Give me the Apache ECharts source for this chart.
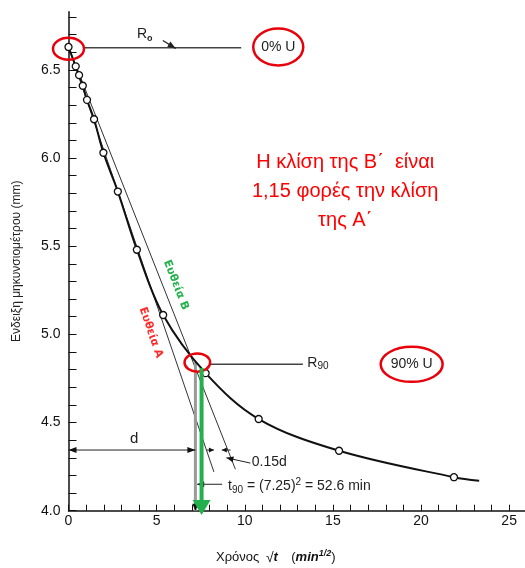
<!DOCTYPE html>
<html><head><meta charset="utf-8">
<script src="https://cdn.jsdelivr.net/npm/echarts@6/dist/echarts.min.js"></script>
<style>html,body{margin:0;padding:0;background:#fff}#c{width:525px;height:568px}</style>
</head><body><div id="c"></div>
<script>
// ---- data ----
const sqrtT   = [0, 0.41, 0.60, 0.81, 1.05, 1.45, 1.98, 2.80, 3.88, 5.37, 7.78, 10.79, 15.35, 21.87];
const reading = [6.63, 6.52, 6.47, 6.41, 6.33, 6.22, 6.03, 5.81, 5.48, 5.11, 4.78, 4.52, 4.34, 4.19];
const curveEnd = [23.3, 4.17];
const lineA = [[0, 6.63], [8.25, 4.22]];
const lineB = [[0, 6.63], [9.47, 4.235]];
const r0Line = [[0.9, 6.625], [9.8, 6.625]];
const r90Line = [[8.0, 4.83], [13.3, 4.83]];
const t90X = 7.2;
const t90Top = 4.84;
const greenArrow = [[7.55, 4.81], [7.55, 3.976]];
const dLevel = 4.344;
const xTickLabels = [0, 5, 10, 15, 20, 25];
const yTickLabels = [4.0, 4.5, 5.0, 5.5, 6.0, 6.5];
const circledPoints = [[0, 6.62], [7.31, 4.84]];
const uLabels = [['0% U', 11.9, 6.63], ['90% U', 19.47, 4.83]];
const noteLines = ['Η κλίση της Β΄  είναι', '1,15 φορές την κλίση', 'της Α΄'];
const noteAnchor = [15.7, 5.81];

const chart = echarts.init(document.getElementById('c'), null, {renderer: 'canvas'});

function head(tip, from, len, half, color) {
  const dx = tip[0] - from[0], dy = tip[1] - from[1];
  const L = Math.hypot(dx, dy) || 1, ux = dx / L, uy = dy / L;
  const bx = tip[0] - ux * len, by = tip[1] - uy * len;
  return {type: 'polygon', shape: {points: [tip, [bx - uy * half, by + ux * half], [bx + uy * half, by - ux * half]]},
          style: {fill: color || '#111'}};
}
function seg(p0, p1, color, w) {
  return {type: 'line', shape: {x1: p0[0], y1: p0[1], x2: p1[0], y2: p1[1]}, style: {stroke: color || '#111', lineWidth: w || 1}};
}

function renderAnn(params, api) {
  const c = (x, y) => api.coord([x, y]);
  const kids = [];
  // red ellipses
  const ellR = [[15.5, 11], [12.8, 9.2]];
  circledPoints.forEach((p, i) => {
    const q = c(p[0], p[1]);
    kids.push({type: 'ellipse', shape: {cx: q[0], cy: q[1], rx: ellR[i][0], ry: ellR[i][1]}, style: {fill: null, stroke: '#e8000b', lineWidth: 2.5}});
  });
  const uR = [[25, 18.5], [31, 17.5]];
  uLabels.forEach((u, i) => {
    const q = c(u[1], u[2]);
    kids.push({type: 'ellipse', shape: {cx: q[0], cy: q[1], rx: uR[i][0], ry: uR[i][1]}, style: {fill: null, stroke: '#e8000b', lineWidth: 2.5}});
    kids.push({type: 'text', x: q[0], y: q[1], style: {text: u[0], fontSize: 14, fontFamily: 'Liberation Sans, Arial', fill: '#222', align: 'center', verticalAlign: 'middle'}});
  });
  // R0 label and arrow
  let q = c(4.33, 6.70);
  kids.push({type: 'text', x: q[0], y: q[1], style: {text: '{r|R}{s|o}', align: 'center', verticalAlign: 'middle',
    rich: {r: {fontSize: 14, fontFamily: 'Liberation Sans, Arial', fill: '#222', lineHeight: 16}, s: {fontSize: 9, fontWeight: 'bold', fill: '#222', verticalAlign: 'bottom', lineHeight: 10}}}});
  let a0 = c(5.35, 6.667), a1 = c(6.08, 6.622);
  kids.push(seg(a0, a1, '#222', 1.2), head(a1, a0, 8, 3, '#222'));
  // R90 label
  q = c(13.55, 4.835);
  kids.push({type: 'text', x: q[0], y: q[1], style: {text: '{r|R}{s|90}', align: 'left', verticalAlign: 'middle',
    rich: {r: {fontSize: 14, fontFamily: 'Liberation Sans, Arial', fill: '#222', lineHeight: 16}, s: {fontSize: 10, fill: '#222', verticalAlign: 'bottom', lineHeight: 10}}}});
  // d dimension
  a0 = c(0, dLevel); a1 = c(t90X, dLevel);
  kids.push(seg(a0, a1, '#222', 1), head(a0, a1, 8, 3), head(a1, a0, 8, 3));
  q = c(3.72, 4.41);
  kids.push({type: 'text', x: q[0], y: q[1], style: {text: 'd', fontSize: 15, fontFamily: 'Liberation Sans, Arial', fill: '#222', align: 'center', verticalAlign: 'middle'}});
  // 0.15d arrows
  a0 = c(7.85, dLevel); a1 = c(8.25, dLevel);
  kids.push(seg(a0, a1, '#222', 1), head(a1, a0, 5, 2.5));
  a0 = c(9.2, dLevel); a1 = c(8.7, dLevel);
  kids.push(seg(a0, a1, '#222', 1), head(a1, a0, 5, 2.5));
  a0 = c(10.32, 4.27); a1 = c(8.96, 4.30);
  kids.push(seg(a0, a1, '#222', 1), head(a1, a0, 7, 3));
  q = c(10.4, 4.275);
  kids.push({type: 'text', x: q[0], y: q[1], style: {text: '0.15d', fontSize: 14, fontFamily: 'Liberation Sans, Arial', fill: '#222', align: 'left', verticalAlign: 'middle'}});
  // t90 leader and text
  a0 = c(8.72, 4.15); a1 = c(7.3, 4.15);
  kids.push(seg(a0, a1, '#222', 1), head(a1, a0, 7, 3));
  q = c(9.05, 4.14);
  kids.push({type: 'text', x: q[0], y: q[1], style: {text: '{t|t}{s|90}{t| = (7.25)}{p|2}{t| = 52.6 min}', align: 'left', verticalAlign: 'middle',
    rich: {t: {fontSize: 14, fontFamily: 'Liberation Sans, Arial', fill: '#222', lineHeight: 18},
           s: {fontSize: 10, fontFamily: 'Liberation Sans, Arial', fill: '#222', verticalAlign: 'bottom', lineHeight: 10},
           p: {fontSize: 10, fontFamily: 'Liberation Sans, Arial', fill: '#222', verticalAlign: 'top', lineHeight: 10}}}});
  // small arrowhead at the bottom of the t90 line
  a1 = c(t90X, 4.0); a0 = c(t90X, 4.1);
  kids.push(head(a1, a0, 7, 3));
  // red note
  q = c(noteAnchor[0], noteAnchor[1]);
  kids.push({type: 'text', x: q[0], y: q[1], style: {text: noteLines.join('\n'), fontSize: 20, lineHeight: 29,
    fontFamily: 'Liberation Sans, Arial', fill: '#ff0000', align: 'center', verticalAlign: 'middle'}});
  // rotated line labels
  q = c(6.1, 5.28);
  kids.push({type: 'text', x: q[0], y: q[1], rotation: -1.2, style: {text: 'Ευθεία Β', fontSize: 11, fontWeight: 'bold',
    fontFamily: 'DejaVu Sans, Arial', fill: '#22b14c', align: 'center', verticalAlign: 'middle'}});
  q = c(4.67, 5.01);
  kids.push({type: 'text', x: q[0], y: q[1], rotation: -1.24, style: {text: 'Ευθεία Α', fontSize: 11, fontWeight: 'bold',
    fontFamily: 'DejaVu Sans, Arial', fill: '#ff2a2a', align: 'center', verticalAlign: 'middle'}});
  // green arrow
  const g0 = c(greenArrow[0][0], greenArrow[0][1]), g1 = c(greenArrow[1][0], greenArrow[1][1]);
  kids.push(seg(g0, [g1[0], g1[1] - 12], '#22b14c', 4), head(g1, g0, 15, 9, '#22b14c'));
  return {type: 'group', children: kids};
}

const font = 'Liberation Sans, Arial, sans-serif';
chart.setOption({
  animation: false,
  backgroundColor: '#fff',
  grid: {left: 68.5, right: 0, top: 11.7, bottom: 57.3, containLabel: false, outerBoundsMode: 'none'},
  xAxis: {
    type: 'value', min: 0, max: 25.9, interval: 1,
    axisLine: {lineStyle: {color: '#111', width: 1.5}},
    axisTick: {inside: true, length: 6, lineStyle: {color: '#111', width: 1}},
    axisLabel: {fontSize: 14, fontFamily: font, color: '#111', margin: 3, showMaxLabel: false,
      formatter: v => xTickLabels.indexOf(Math.round(v * 1000) / 1000) >= 0 ? String(v) : ''},
    splitLine: {show: false},
    name: '{a|Χρόνος}  {b|√}{c|t}    {a|(}{c|min}{d|1/2}{a|)}',
    nameLocation: 'middle', nameGap: 38,
    nameTextStyle: {padding: [0, 42, 0, 0], rich: {
      a: {fontSize: 13, fontFamily: font, color: '#111', lineHeight: 18},
      b: {fontSize: 14, fontFamily: font, color: '#111', lineHeight: 18},
      c: {fontSize: 13, fontFamily: font, fontStyle: 'italic', fontWeight: 'bold', color: '#111', lineHeight: 18},
      d: {fontSize: 9, fontFamily: font, fontStyle: 'italic', fontWeight: 'bold', color: '#111', verticalAlign: 'top', lineHeight: 10}}}
  },
  yAxis: {
    type: 'value', min: 4.0, max: 6.83, interval: 0.1,
    axisLine: {lineStyle: {color: '#111', width: 1.5}},
    axisTick: {inside: true, length: 8, lineStyle: {color: '#111', width: 1}},
    axisLabel: {fontSize: 14, fontFamily: font, color: '#111', margin: 8, showMaxLabel: false,
      formatter: v => yTickLabels.some(t => Math.abs(t - v) < 1e-6) ? v.toFixed(1) : ''},
    splitLine: {show: false},
    name: 'Ενδειξη μηκυνσιομέτρου (mm)', nameLocation: 'middle', nameRotate: 90, nameGap: 46,
    nameTextStyle: {fontSize: 12, fontFamily: font, color: '#222'}
  },
  series: [
    {type: 'line', data: lineA, symbol: 'none', lineStyle: {color: '#333', width: 1}, z: 2},
    {type: 'line', data: lineB, symbol: 'none', lineStyle: {color: '#333', width: 1}, z: 2},
    {type: 'line', data: r0Line, symbol: 'none', lineStyle: {color: '#444', width: 1.5}, z: 2},
    {type: 'line', data: r90Line, symbol: 'none', lineStyle: {color: '#444', width: 1.5}, z: 2},
    {type: 'line', data: [[t90X, t90Top], [t90X, 4.0]], symbol: 'none', lineStyle: {color: '#9a9a9a', width: 3}, z: 2},
    {type: 'line', smooth: 0.35,
      data: sqrtT.map((x, i) => [x, reading[i]]).concat([{value: curveEnd, symbol: 'none'}]),
      symbol: 'circle', symbolSize: 7,
      itemStyle: {color: '#fff', borderColor: '#111', borderWidth: 1.3},
      lineStyle: {color: '#111', width: 2}, z: 4},
    {type: 'custom', data: [[0, 4]], renderItem: renderAnn, z: 10, clip: false, silent: true}
  ]
});
</script></body></html>
